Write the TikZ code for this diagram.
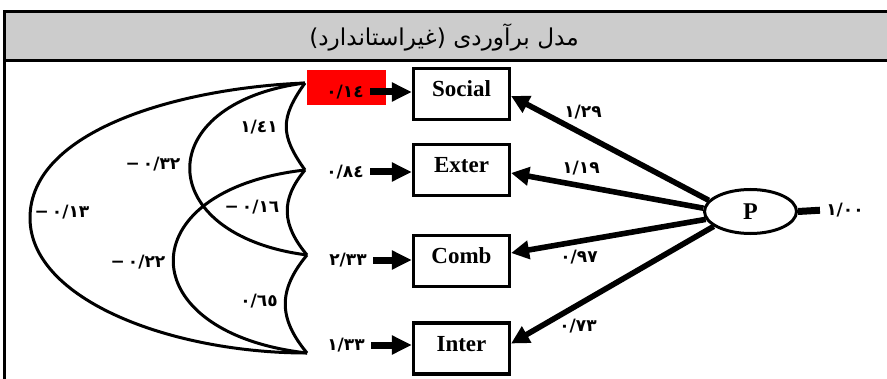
\documentclass[tikz,border=0pt]{standalone}
\usepackage{fontspec}
\setmainfont{Liberation Serif}
\newfontfamily\arabicfont[Script=Arabic]{DejaVu Sans}
\TeXXeTstate=1
\usetikzlibrary{shapes,arrows.meta}
\definecolor{hdrgray}{RGB}{204,204,204}
\tikzstyle{obs}=[rectangle,draw=black,line width=1.6pt,minimum width=48pt,minimum height=25.5pt,inner sep=0pt,text depth=5pt,font=\fontsize{11.5}{13}\selectfont\bfseries]
\tikzstyle{lat}=[ellipse,draw=black,line width=1.5pt,minimum width=46pt,minimum height=22pt,inner sep=0pt,font=\fontsize{12}{14}\selectfont\bfseries]
\tikzstyle{num}=[inner sep=1pt,font=\arabicfont\fontsize{8.5}{10}\selectfont\bfseries]
\tikzstyle{errarr}=[-{Triangle[length=10pt,width=9pt]},line width=3.5pt]
\tikzstyle{patharr}=[-{Triangle[length=9pt,width=9pt]},line width=2.8pt]
\tikzstyle{cov}=[line width=1.5pt]
\newcommand{\mneg}{\mbox{−}\kern1.5pt}

\begin{document}
\begin{tikzpicture}[x=0.5pt,y=-0.5pt]
\useasboundingbox (0,0) rectangle (887,379);
% frame and title
\fill[hdrgray] (4,12) rectangle (900,61);
\draw[line width=1.5pt] (4,400) -- (4,12) -- (900,12);
\draw[line width=1.5pt] (4,61) -- (900,61);
\node[font=\arabicfont\fontsize{11.6}{14}\selectfont] (title) at (444,37) {\beginR مدل برآوردی (غیراستاندارد)\endR};

% observed variables
\node[obs] (social) at (461.5,94) {Social};
\node[obs] (exter) at (461.5,170) {Exter};
\node[obs] (comb) at (461.5,261) {Comb};
\node[obs] (inter) at (461.5,348.5) {Inter};
\node[lat] (P) at (750.5,211.5) {P};

% error variances
\node[rectangle,fill=red,minimum width=39.5pt,minimum height=17.5pt,inner sep=0pt] (hl) at (346.5,87.5) {};
\node[num] (e1) at (345,92) {٠/١٤};
\node[num] (e2) at (345,172) {٠/٨٤};
\node[num] (e3) at (348,260) {٢/٣٣};
\node[num] (e4) at (346,345) {١/٣٣};
\draw[errarr,shorten <=2pt] (e1.east) -- (social.west |- e1.east);
\draw[errarr,shorten <=2pt] (e2.east) -- (exter.west |- e2.east);
\draw[errarr,shorten <=2pt] (e3.east) -- (comb.west |- e3.east);
\draw[errarr,shorten <=2pt] (e4.east) -- (inter.west |- e4.east);

% covariances
\coordinate (cS) at (305,83);
\coordinate (cE) at (305,170);
\coordinate (cC) at (307,255);
\coordinate (cI) at (307,353);
\draw[cov] (cS) .. controls +(-25,35) and +(-25,-35) .. (cE);
\draw[cov] (cE) .. controls +(-25,30) and +(-25,-30) .. (cC);
\draw[cov] (cC) .. controls +(-29,35) and +(-29,-35) .. (cI);
\draw[cov] (cS) .. controls +(-155,20) and +(-155,-20) .. (cC);
\draw[cov] (cE) .. controls +(-177,20) and +(-177,-20) .. (cI);
\draw[cov] (cS) .. controls +(-125,5) and +(0,-88) .. ++(-275,135) .. controls +(0,82) and +(-135,0) .. (cI);
\node[num] (k1) at (259,127) {١/٤١};
\node[num] (k2) at (252,207) {\mneg٠/١٦};
\node[num] (k3) at (259,301) {٠/٦٥};
\node[num] (k4) at (153,164) {\mneg٠/٣٢};
\node[num] (k5) at (138,262) {\mneg٠/٢٢};
\node[num] (k6) at (62,212) {\mneg٠/١٣};

% loadings
\draw[patharr] (P.165) -- ([yshift=-1pt]social.east);
\draw[patharr] (P.176) -- ([yshift=-1.5pt]exter.east);
\draw[patharr] (P.190) -- ([yshift=4pt]comb.east);
\draw[patharr] (P.202) -- ([yshift=2.5pt]inter.east);
\node[num] (l1) at (583,112) {١/٢٩};
\node[num] (l2) at (581,168) {١/١٩};
\node[num] (l3) at (579,257) {٠/٩٧};
\node[num] (l4) at (578,326) {٠/٧٣};

% latent variance
\node[num] (v1) at (845,210) {١/٠٠};
\draw[line width=3.5pt,shorten >=2pt] (P.east) -- (v1.west);
\end{tikzpicture}
\end{document}
